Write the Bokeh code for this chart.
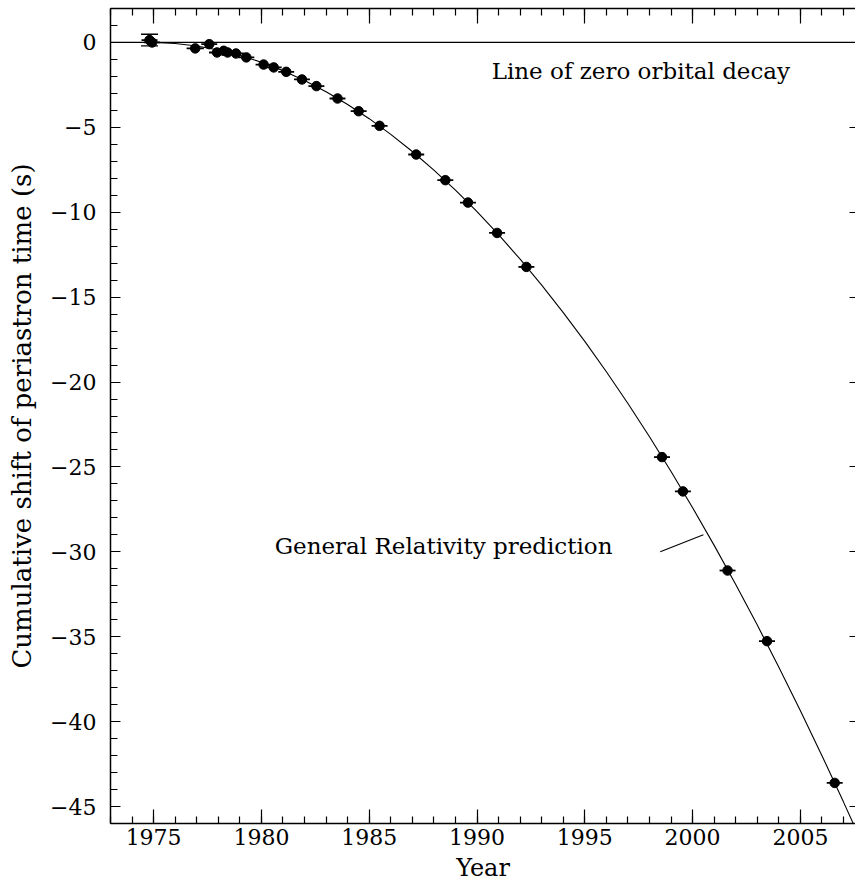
from bokeh.plotting import figure
from bokeh.models import Range1d, LinearAxis, FixedTicker, Span, Whisker, TeeHead, ColumnDataSource
from bokeh.core.properties import value
from bokeh.embed import file_html
from bokeh.resources import INLINE

# ---- data ----
years = [1974.81, 1974.93, 1976.93, 1977.58, 1977.94, 1978.25, 1978.43, 1978.82, 1979.30,
         1980.10, 1980.57, 1981.15, 1981.88, 1982.55, 1983.53, 1984.51, 1985.48, 1987.18,
         1988.53, 1989.58, 1990.93, 1992.29, 1998.58, 1999.55, 2001.62, 2003.45, 2006.59]
shift = [0.14, 0.00, -0.35, -0.10, -0.59, -0.49, -0.59, -0.65, -0.88,
         -1.30, -1.47, -1.73, -2.18, -2.57, -3.30, -4.05, -4.91, -6.60,
         -8.11, -9.43, -11.22, -13.22, -24.42, -26.44, -31.10, -35.26, -43.61]
xerr = [0.37, 0.37, 0.40, 0.37, 0.37, 0.37, 0.37, 0.37, 0.37,
        0.37, 0.37, 0.37, 0.37, 0.37, 0.37, 0.37, 0.37, 0.37,
        0.37, 0.37, 0.37, 0.37, 0.37, 0.37, 0.37, 0.37, 0.37]
yerr = [0.34, 0, 0, 0, 0, 0, 0, 0, 0,
        0, 0, 0, 0, 0, 0, 0, 0, 0,
        0, 0, 0, 0, 0, 0, 0, 0, 0]

# General Relativity prediction curve
gr_years = [1974.8, 1975, 1976, 1977, 1978, 1979, 1980, 1981, 1982, 1983, 1984, 1985,
            1986, 1987, 1988, 1989, 1990, 1991, 1992, 1993, 1994, 1995, 1996, 1997,
            1998, 1999, 2000, 2001, 2002, 2003, 2004, 2005, 2006, 2007, 2007.5]
gr_shift = [0.0, -0.002, -0.062, -0.209, -0.442, -0.761, -1.167, -1.659, -2.237, -2.901,
            -3.652, -4.489, -5.413, -6.422, -7.519, -8.701, -9.969, -11.324, -12.765,
            -14.293, -15.907, -17.607, -19.393, -21.266, -23.225, -25.270, -27.402,
            -29.620, -31.924, -34.315, -36.791, -39.355, -42.004, -44.740, -46.14]

x_major = [1975, 1980, 1985, 1990, 1995, 2000, 2005]
x_minor = list(range(1973, 2009))
y_major = [0, -5, -10, -15, -20, -25, -30, -35, -40, -45]
y_minor = list(range(-46, 3))
y_labels = ["0", "\u22125", "\u221210", "\u221215", "\u221220", "\u221225",
            "\u221230", "\u221235", "\u221240", "\u221245"]

title_x = "Year"
title_y = "Cumulative shift of periastron time (s)"
label_zero = "Line of zero orbital decay"
label_gr = "General Relativity prediction"

FONT = "DejaVu Serif"

p = figure(width=855, height=885, x_range=Range1d(1973, 2007.555), y_range=Range1d(-46, 2),
           output_backend="svg", toolbar_location=None,
           min_border_left=110, min_border_right=0, min_border_top=8, min_border_bottom=62)
p.outline_line_color = None
p.xgrid.visible = False
p.ygrid.visible = False
p.background_fill_color = "white"
p.border_fill_color = "white"

xt = FixedTicker(ticks=x_major, minor_ticks=x_minor)
yt = FixedTicker(ticks=y_major, minor_ticks=y_minor)

def style(ax, major_in, minor_in, labels=True):
    ax.axis_line_color = "black"
    ax.axis_line_width = 1.5
    ax.major_tick_line_color = "black"
    ax.minor_tick_line_color = "black"
    ax.major_tick_line_width = 1.2
    ax.minor_tick_line_width = 1.2
    ax.major_tick_in = major_in
    ax.major_tick_out = 0
    ax.minor_tick_in = minor_in
    ax.minor_tick_out = 0
    ax.major_label_text_font = FONT
    ax.major_label_text_color = "black"
    ax.axis_label_text_font = FONT
    ax.axis_label_text_font_style = "normal"
    ax.axis_label_text_color = "black"
    if not labels:
        ax.major_label_text_color = None
        ax.major_label_text_font_size = "1px"
        ax.major_label_standoff = 0

xb = p.xaxis[0]
xb.ticker = xt
style(xb, 14, 7)
xb.major_label_text_font_size = "22px"
xb.major_label_standoff = 5
xb.axis_label = title_x
xb.axis_label_text_font_size = "24px"
xb.axis_label_standoff = 6

yl = p.yaxis[0]
yl.ticker = yt
style(yl, 10, 7)
yl.major_label_text_font_size = "22px"
yl.major_label_standoff = 14
yl.major_label_overrides = {t: s for t, s in zip(y_major, y_labels)}
yl.axis_label = title_y
yl.axis_label_text_font_size = "26px"
yl.axis_label_standoff = 10

xtop = LinearAxis(ticker=xt)
style(xtop, 15, 7, labels=False)
p.add_layout(xtop, "above")

yr = LinearAxis(ticker=yt)
style(yr, 6, 0, labels=False)
yr.axis_line_color = None
p.add_layout(yr, "right")

# zero line
p.add_layout(Span(location=0, dimension="width", line_color="black", line_width=1.2))

# GR curve
p.line(gr_years, gr_shift, line_color="black", line_width=1.1)

# error bars
x0 = [a - e for a, e in zip(years, xerr)]
x1 = [a + e for a, e in zip(years, xerr)]
p.segment(x0=x0, y0=shift, x1=x1, y1=shift, line_color="black", line_width=1.8)

ey = [(a, b, e) for a, b, e in zip(years, shift, yerr) if e > 0]
src = ColumnDataSource(data=dict(base=[r[0] for r in ey],
                                 upper=[r[1] + r[2] for r in ey],
                                 lower=[r[1] - r[2] for r in ey]))
p.add_layout(Whisker(source=src, base="base", upper="upper", lower="lower", dimension="height",
                     line_color="black", line_width=1.4,
                     upper_head=TeeHead(size=17, line_width=1.4, line_color="black"),
                     lower_head=TeeHead(size=17, line_width=1.4, line_color="black")))

# points
p.scatter(years, shift, size=9.5, marker="circle", fill_color="black", line_color="black")

# annotations
p.text(x=[1997.6], y=[-1.68], text=[label_zero], text_font=value(FONT), text_font_size="23px",
       text_align="center", text_baseline="alphabetic", text_color="black")
p.text(x=[1988.45], y=[-29.66], text=[label_gr], text_font=value(FONT), text_font_size="23px",
       text_align="center", text_baseline="alphabetic", text_color="black")
p.line([1998.5, 2000.5], [-30.0, -29.0], line_color="black", line_width=1.1)

open("out.html", "w").write(file_html(p, INLINE))
